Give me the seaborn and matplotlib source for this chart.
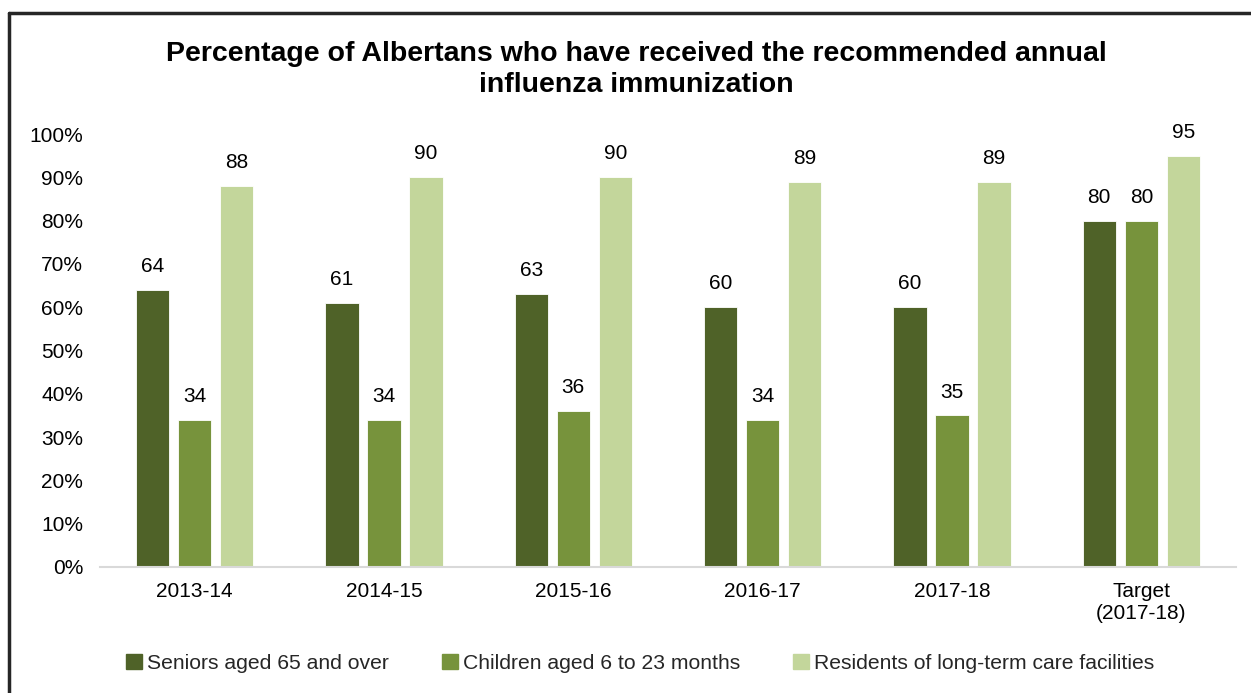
import matplotlib
matplotlib.use("Agg")
import matplotlib.pyplot as plt
import seaborn as sns
import pandas as pd
from matplotlib.lines import Line2D

# Immunization rates (%) by season
periods = ["2013-14", "2014-15", "2015-16", "2016-17", "2017-18", "Target\n(2017-18)"]
seniors = [64, 61, 63, 60, 60, 80]
children = [34, 34, 36, 34, 35, 80]
residents = [88, 90, 90, 89, 89, 95]
groups = ["Seniors aged 65 and over",
          "Children aged 6 to 23 months",
          "Residents of long-term care facilities"]
colors = ["#4f6228", "#77933c", "#c3d69b"]
y_ticks = [0, 10, 20, 30, 40, 50, 60, 70, 80, 90, 100]

df = pd.DataFrame({
    "period": periods * 3,
    "group": [groups[0]] * 6 + [groups[1]] * 6 + [groups[2]] * 6,
    "value": seniors + children + residents,
})

sns.set_theme(style="white")
plt.rcParams["font.family"] = ["Liberation Sans", "DejaVu Sans"]

fig = plt.figure(figsize=(12.51, 6.93), dpi=100)
ax = fig.add_axes([100 / 1251, 1 - 567 / 693, 1136 / 1251, 433 / 693])

sns.barplot(data=df, x="period", y="value", hue="group", order=periods,
            hue_order=groups, palette=colors, width=0.667, gap=0.21,
            saturation=1, edgecolor="white", linewidth=0.6, ax=ax)

for cont in ax.containers:
    ax.bar_label(cont, fmt="%.0f", padding=10, fontsize=15, color="#000000")

ax.set_ylim(0, 100)
ax.set_xlim(-0.5, 5.5)
ax.set_yticks(y_ticks)
ax.set_yticklabels([f"{v}%" for v in y_ticks], fontsize=15, color="#000000")
ax.tick_params(axis="y", length=0, pad=12)
ax.tick_params(axis="x", length=0, pad=11, labelsize=15, labelcolor="#000000")
ax.set_xlabel("")
ax.set_ylabel("")
for side in ["left", "right", "top"]:
    ax.spines[side].set_visible(False)
ax.spines["bottom"].set_color("#d9d9d9")
ax.spines["bottom"].set_linewidth(1.5)

ax.get_legend().remove()
handles = [plt.Rectangle((0, 0), 1, 1, color=c) for c in colors]
fig.legend(handles, groups, loc="center", bbox_to_anchor=(0.512, 0.043),
           ncol=3, frameon=False, fontsize=15.2, handlelength=0.75,
           handleheight=0.75, handletextpad=0.25, columnspacing=2.5)

fig.text(0.509, 0.900,
         "Percentage of Albertans who have received the recommended annual\ninfluenza immunization",
         ha="center", va="center", fontsize=20.5, fontweight="bold",
         linespacing=1.25, color="#000000")

# Outer frame (left and top edges)
fig.add_artist(Line2D([9 / 1251, 9 / 1251], [0, 1 - 13 / 693],
                      transform=fig.transFigure, color="#262626", linewidth=2.5))
fig.add_artist(Line2D([9 / 1251, 1], [1 - 13 / 693, 1 - 13 / 693],
                      transform=fig.transFigure, color="#262626", linewidth=2.5))

fig.savefig("out.png", dpi=100)
